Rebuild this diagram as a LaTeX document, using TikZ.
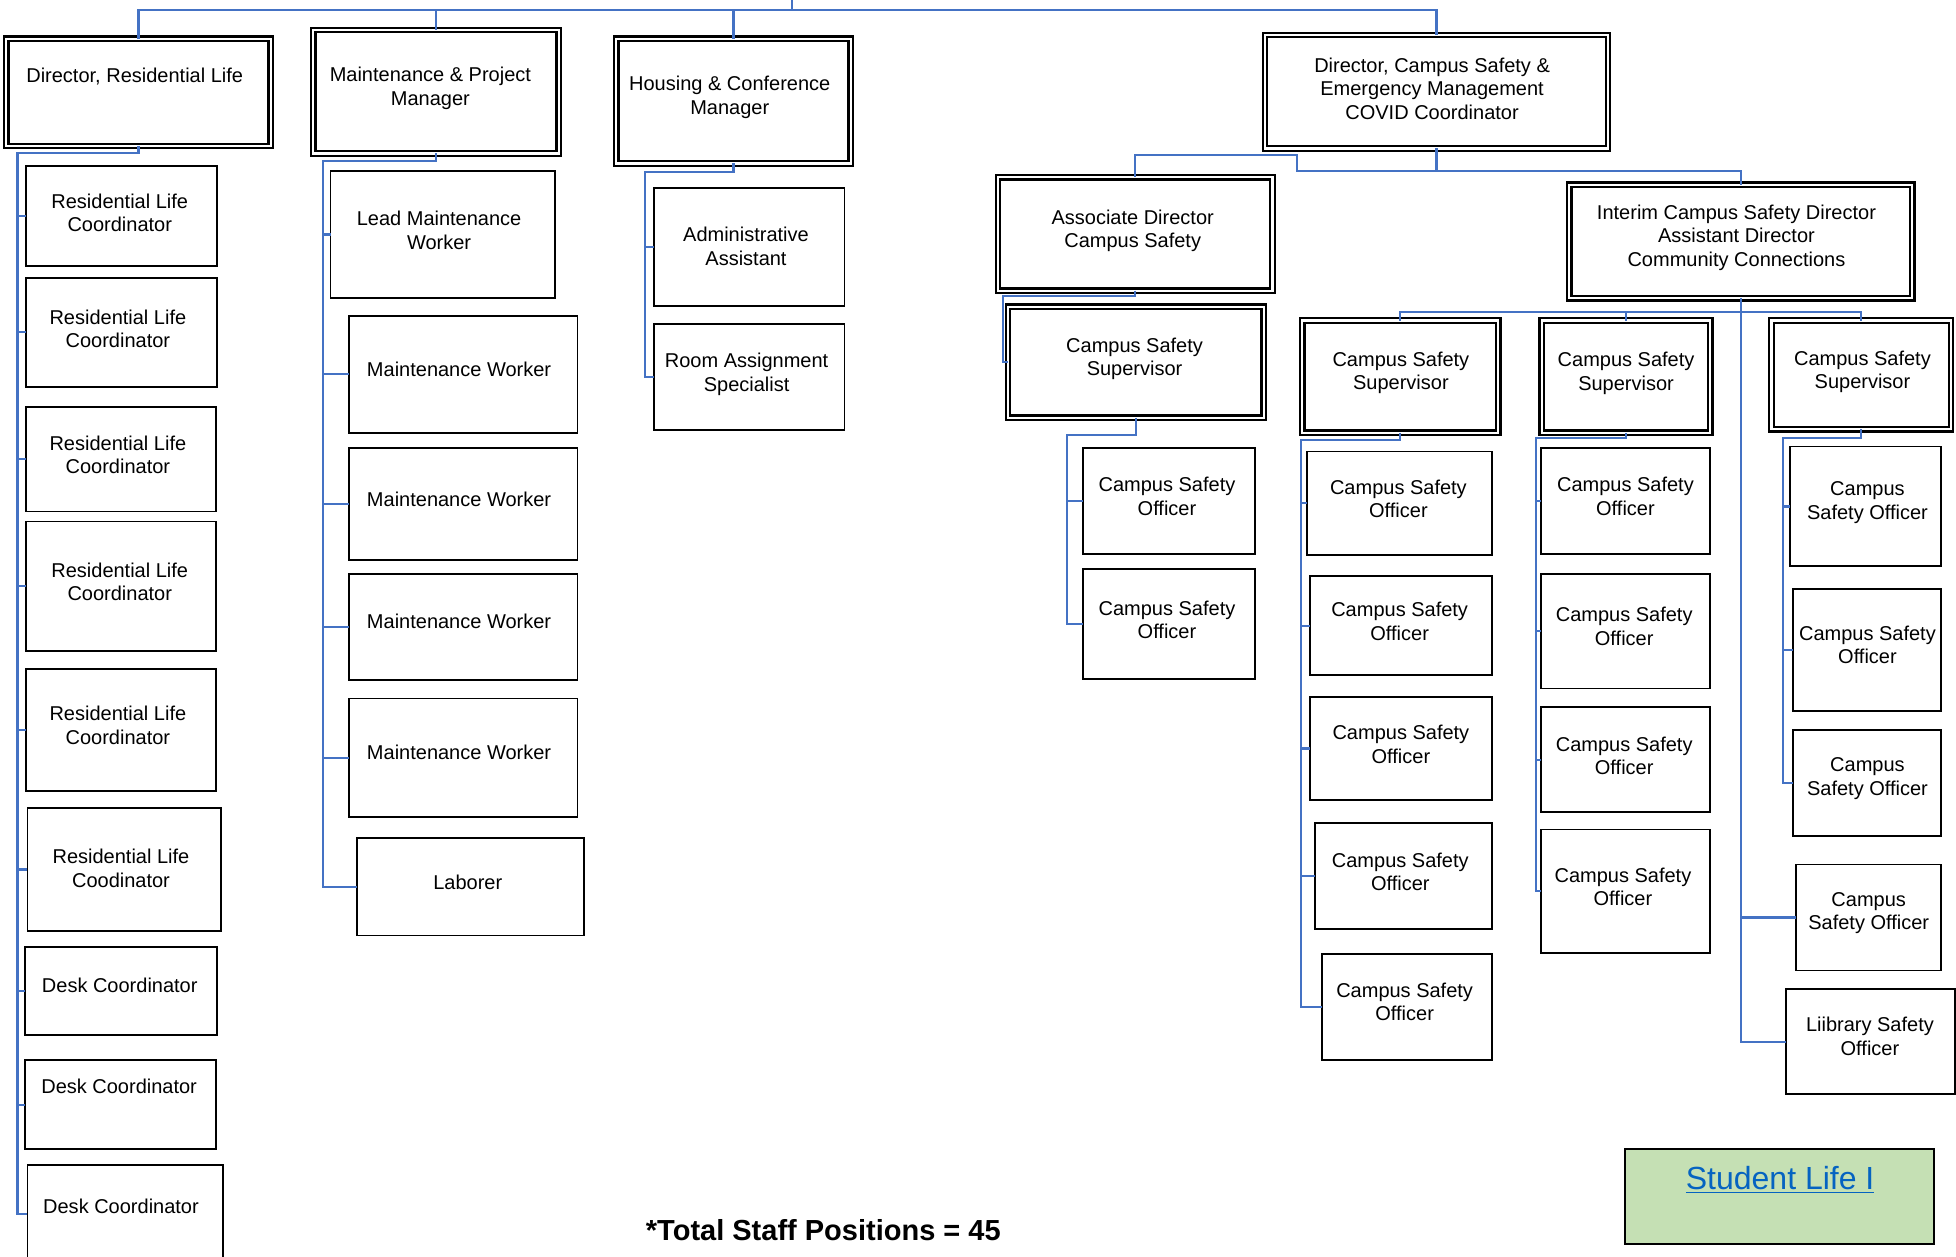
\documentclass[tikz,border=0pt]{standalone}
\usepackage{fontspec}
\setmainfont{Liberation Sans}
\definecolor{conncol}{HTML}{4472C4}
\definecolor{slfill}{HTML}{C5E0B4}
\definecolor{linkblue}{HTML}{0563C1}
\tikzset{
 sbox/.style={rectangle, draw=black, line width=0.9pt, inner sep=0pt, outer sep=0pt},
 dbox/.style={rectangle, draw=black, double, line width=1.15pt, double distance=1.1pt, inner sep=0pt, outer sep=0pt},
 txt/.style={align=center, font=\fontsize{10}{11.8}\selectfont, inner sep=0pt},
 cn/.style={draw=conncol, line width=1.05pt},
}
\newcommand{\bx}[9]{%
 \node[#1, minimum width={(#5-#3)*0.6237pt}, minimum height={(#6-#4)*0.6237pt}, anchor=north west] (#2) at (#3,#4) {};
 \node[txt] (#2t) at (#7,#8) {#9};}
\begin{document}
\begin{tikzpicture}[x=0.6237pt, y=-0.6237pt]
\useasboundingbox (0,0) rectangle (1568,1007);
% top level
\bx{dbox}{drl}{5}{31}{217}{117}{108}{61}{Director, Residential Life}
\bx{dbox}{mpm}{251}{24}{448}{123}{345}{71}{Maintenance \& Project\\Manager}
\bx{dbox}{hcm}{494}{31}{682}{131}{585}{78}{Housing \& Conference\\Manager}
\bx{dbox}{csd}{1014}{28}{1289}{119}{1148}{71}{Director, Campus Safety \&\\Emergency Management\\COVID Coordinator}
% residential life
\bx{sbox}{rlc1}{21}{133}{174}{213}{96}{170.5}{Residential Life\\Coordinator}
\bx{sbox}{rlc2}{21}{223}{174}{310}{94.5}{263.5}{Residential Life\\Coordinator}
\bx{sbox}{rlc3}{21}{326}{173}{410}{94.5}{364.5}{Residential Life\\Coordinator}
\bx{sbox}{rlc4}{21}{418}{173}{522}{96}{466.5}{Residential Life\\Coordinator}
\bx{sbox}{rlc5}{21}{536}{173}{634}{94.5}{581.5}{Residential Life\\Coordinator}
\bx{sbox}{rlc6}{22}{648}{177}{746}{97}{696}{Residential Life\\Coodinator}
\bx{sbox}{dc1}{20}{759}{174}{830}{96}{790}{Desk Coordinator}
\bx{sbox}{dc2}{20}{850}{173}{921}{95.5}{871}{Desk Coordinator}
\bx{sbox}{dc3}{22}{934}{179}{1012}{97}{967}{Desk Coordinator}
% maintenance
\bx{sbox}{lmw}{265}{137}{445}{239}{352}{184.5}{Lead Maintenance\\Worker}
\bx{sbox}{mw1}{280}{253}{463}{347}{368}{296}{Maintenance Worker}
\bx{sbox}{mw2}{280}{359}{463}{449}{368}{400}{Maintenance Worker}
\bx{sbox}{mw3}{280}{460}{463}{545}{368}{498}{Maintenance Worker}
\bx{sbox}{mw4}{280}{560}{463}{655}{368}{603}{Maintenance Worker}
\bx{sbox}{lab}{286}{672}{468}{750}{375}{707}{Laborer}
% housing
\bx{sbox}{aa}{524}{151}{677}{245}{598}{197.5}{Administrative\\Assistant}
\bx{sbox}{ras}{524}{260}{677}{345}{598.5}{300}{Room Assignment\\Specialist}
% campus safety
\bx{dbox}{asd}{800}{142}{1020}{233}{908}{185}{Associate Director\\Campus Safety}
\bx{dbox}{icd}{1258}{148}{1533}{239}{1392}{190.5}{Interim Campus Safety Director\\Assistant Director\\Community Connections}
\bx{dbox}{css0}{808}{246}{1013}{335}{909.5}{287.5}{Campus Safety\\Supervisor}
\bx{sbox}{cso1}{868}{359}{1006}{444}{935.5}{398}{Campus Safety\\Officer}
\bx{sbox}{cso2}{868}{456}{1006}{544}{935.5}{497}{Campus Safety\\Officer}
\bx{dbox}{css1}{1044}{257}{1201}{347}{1123}{299}{Campus Safety\\Supervisor}
\bx{dbox}{css2}{1236}{257}{1371}{347}{1303.5}{299.5}{Campus Safety\\Supervisor}
\bx{dbox}{css3}{1420}{257}{1564}{344}{1493}{298}{Campus Safety\\Supervisor}
\bx{sbox}{c11}{1048}{362}{1196}{445}{1121}{400}{Campus Safety\\Officer}
\bx{sbox}{c12}{1050}{462}{1196}{541}{1122}{498}{Campus Safety\\Officer}
\bx{sbox}{c13}{1050}{559}{1196}{641}{1123}{596.5}{Campus Safety\\Officer}
\bx{sbox}{c14}{1054}{660}{1196}{745}{1122.5}{699}{Campus Safety\\Officer}
\bx{sbox}{c15}{1060}{765}{1196}{850}{1126}{803}{Campus Safety\\Officer}
\bx{sbox}{c21}{1235}{359}{1371}{444}{1303}{398}{Campus Safety\\Officer}
\bx{sbox}{c22}{1235}{460}{1371}{552}{1302}{502}{Campus Safety\\Officer}
\bx{sbox}{c23}{1235}{567}{1371}{651}{1302}{606}{Campus Safety\\Officer}
\bx{sbox}{c24}{1235}{665}{1371}{764}{1301}{711}{Campus Safety\\Officer}
\bx{sbox}{c31}{1435}{358}{1556}{454}{1497}{403}{Campus\\Safety Officer}
\bx{sbox}{c32}{1437}{472}{1556}{570}{1497}{517}{Campus Safety\\Officer}
\bx{sbox}{c33}{1437}{585}{1556}{670}{1497}{624}{Campus\\Safety Officer}
\bx{sbox}{c34}{1440}{693}{1556}{778}{1498}{732}{Campus\\Safety Officer}
\bx{sbox}{lso}{1432}{793}{1567}{877}{1499}{831}{Liibrary Safety\\Officer}
% student life & total
\node[rectangle, draw=black, line width=1pt, fill=slfill, inner sep=0pt, outer sep=0pt, minimum width={247*0.6237pt}, minimum height={76*0.6237pt}, anchor=north west] (sl) at (1303,921) {};
\node[inner sep=0pt, text=linkblue, font=\fontsize{16}{19}\selectfont] (slt) at (1427,946) {\underline{Student Life I}};
\node[inner sep=0pt, font=\bfseries\fontsize{14.5}{17}\selectfont] (tot) at (660,986) {*Total Staff Positions = 45};
% connectors: top
\coordinate (topc) at (635,0);
\draw[cn] (topc) -- (635,8);
\draw[cn] (drl.north) -- (drl.north |- 0,8) -- (csd.north |- 0,8) -- (csd.north);
\draw[cn] (mpm.north) -- (mpm.north |- 0,8);
\draw[cn] (hcm.north) -- (hcm.north |- 0,8);
% residential life
\coordinate (vL) at (14,123);
\draw[cn] (drl.south) |- (vL) |- (dc3.west);
\foreach \n in {rlc1,rlc2,rlc3,rlc4,rlc5,rlc6,dc1,dc2} \draw[cn] (vL |- \n.west) -- (\n.west);
% maintenance
\coordinate (vM) at (259,129);
\draw[cn] (mpm.south) |- (vM) |- (lab.west);
\foreach \n in {lmw,mw1,mw2,mw3,mw4} \draw[cn] (vM |- \n.west) -- (\n.west);
% housing
\coordinate (vH) at (517,138);
\draw[cn] (hcm.south) |- (vH) |- (ras.west);
\draw[cn] (vH |- aa.west) -- (aa.west);
% campus safety
\draw[cn] (csd.south) -- (csd.south |- 0,137) -- (1040,137) -- (1040,124) -- (asd.north |- 0,124) -- (asd.north);
\draw[cn] (csd.south |- 0,137) -| (icd.north);
\coordinate (vA) at (804,237);
\draw[cn] (asd.south) |- (vA) |- (css0.west);
\coordinate (vB) at (855,349);
\draw[cn] (css0.south) |- (vB) |- (cso2.west);
\draw[cn] (vB |- cso1.west) -- (cso1.west);
% interim
\draw[cn] (icd.south) |- (lso.west);
\draw[cn] (icd.south |- c34.west) -- (c34.west);
\draw[cn] (css1.north) -- (css1.north |- 0,250) -- (css3.north |- 0,250) -- (css3.north);
\draw[cn] (css2.north) -- (css2.north |- 0,250);
\coordinate (v1) at (1043,353);
\draw[cn] (css1.south) |- (v1) |- (c15.west);
\foreach \n in {c11,c12,c13,c14} \draw[cn] (v1 |- \n.west) -- (\n.west);
\coordinate (v2) at (1231,351);
\draw[cn] (css2.south) |- (v2) |- (c24.west);
\foreach \n in {c21,c22,c23} \draw[cn] (v2 |- \n.west) -- (\n.west);
\coordinate (v3) at (1429,351);
\draw[cn] (css3.south) |- (v3) |- (c33.west);
\foreach \n in {c31,c32} \draw[cn] (v3 |- \n.west) -- (\n.west);
\end{tikzpicture}
\end{document}
